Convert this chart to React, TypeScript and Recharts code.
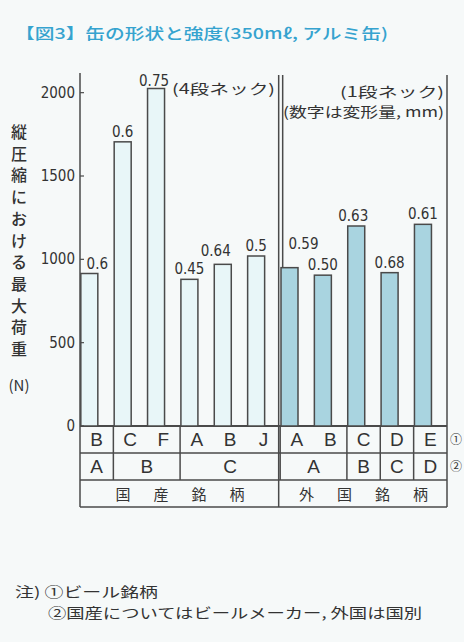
import { BarChart, Bar, XAxis, YAxis, LabelList, Customized } from "recharts";

// brand (row ①), maker / country (row ②), origin group (row ③)
const brands = ["B", "C", "F", "A", "B", "J", "A", "B", "C", "D", "E"];
const makers = ["A", "B", "B", "C", "C", "C", "A", "A", "B", "C", "D"];
const origins = ["domestic", "domestic", "domestic", "domestic", "domestic", "domestic", "foreign", "foreign", "foreign", "foreign", "foreign"];
// max load under vertical compression (N)
const maxLoad = [915, 1705, 2025, 880, 970, 1020, 950, 905, 1200, 920, 1210];
// deformation at max load (mm)
const deformation = ["0.6", "0.6", "0.75", "0.45", "0.64", "0.5", "0.59", "0.50", "0.63", "0.68", "0.61"];
const yTicks = [0, 500, 1000, 1500, 2000];
const originNames: Record<string, string> = { domestic: "国産銘柄", foreign: "外国銘柄" };
const yTitle = ["縦", "圧", "縮", "に", "お", "け", "る", "最", "大", "荷", "重"];

const data = brands.map((b, i) => ({
  brand: b,
  maker: makers[i],
  origin: origins[i],
  load: maxLoad[i],
  deform: deformation[i],
}));

// layout
const W = 464;
const H = 642;
const PLOT_L = 80;
const PLOT_R = 447;
const ROWS = [426, 453, 480, 507];
const BAND = (PLOT_R - PLOT_L) / brands.length;
const BAR_W = 17;
const BAR_SHIFT = (BAND - BAR_W) / 2 - 1; // bars sit at the left of each slot
const DIVIDER_X = PLOT_L + BAND * origins.filter((o) => o === "domestic").length;

const INK = "#4a4a4a";
const TEXT = "#333";
const JP = "'Noto Sans CJK JP', 'Noto Sans', sans-serif";
const NUM = "'DejaVu Sans Condensed', 'Liberation Sans Narrow', 'DejaVu Sans', sans-serif";

// small per-label nudges [dx, dy up] so the deformation labels don't collide
const labelNudge: Record<number, [number, number]> = {
  0: [8, 0],
  2: [-2, -2],
  4: [-7, 3],
  6: [14, 14],
  8: [-3, 0],
};

// runs of identical keys -> [start, length, key]
const runs = (keys: string[]) => {
  const out: [number, number, string][] = [];
  keys.forEach((k, i) => {
    const last = out[out.length - 1];
    if (last && last[2] === k) last[1] += 1;
    else out.push([i, 1, k]);
  });
  return out;
};
const makerRuns = runs(makers.map((m, i) => origins[i] + "|" + m));
const originRuns = runs(origins);

const BarShape = (p: any) => {
  const foreign = p.payload.origin === "foreign";
  return (
    <rect
      x={p.x - BAR_SHIFT}
      y={p.y}
      width={p.width}
      height={p.height}
      fill={foreign ? "#a9d4e0" : "#e8f6f8"}
      stroke={INK}
      strokeWidth={1.5}
    />
  );
};

const DeformLabel = (p: any) => {
  const [dx, dy] = labelNudge[p.index] ?? [0, 0];
  return (
    <text
      x={p.x - BAR_SHIFT + p.width / 2 + dx}
      y={p.y - 5 - dy}
      textAnchor="middle"
      fontFamily={NUM}
      fontSize={15}
      fill={TEXT}
    >
      {p.value}
    </text>
  );
};

const YTick = (p: any) => (
  <g>
    <text x={p.x} y={p.y + 5} textAnchor="end" fontFamily={NUM} fontSize={15} fill={TEXT}>
      {p.payload.value}
    </text>
    <line x1={PLOT_L} x2={PLOT_L + 4} y1={p.y} y2={p.y} stroke={INK} strokeWidth={1.2} />
  </g>
);

// table under the axis: brand, maker/country, origin
const XTick = (p: any) => {
  const i = p.payload.index;
  const mr = makerRuns.find((r) => r[0] === i);
  const or = originRuns.find((r) => r[0] === i);
  return (
    <g fill={TEXT} fontFamily="'Liberation Sans', Arial, sans-serif" fontSize={19} textAnchor="middle">
      <text x={p.x} y={ROWS[0] + 20}>{brands[i]}</text>
      {mr && (
        <text x={p.x + ((mr[1] - 1) * BAND) / 2} y={ROWS[1] + 20}>
          {makers[i]}
        </text>
      )}
      {or &&
        originNames[or[2]].split("").map((ch, k, arr) => (
          <text
            key={k}
            x={p.x + ((or[1] - 1) * BAND) / 2 + (k - (arr.length - 1) / 2) * 38}
            y={ROWS[2] + 20}
            fontFamily={JP}
            fontSize={15}
          >
            {ch}
          </text>
        ))}
    </g>
  );
};

const Frame = () => {
  const bounds = makerRuns.slice(0, -1).map((r) => PLOT_L + (r[0] + r[1]) * BAND);
  return (
    <g>
      {/* title */}
      <text x={15} y={39} fontFamily={JP} fontSize={15} fontWeight={500} fill="#35a3cf" textLength={373} lengthAdjust="spacingAndGlyphs">
        【図3】缶の形状と強度(350mℓ, アルミ缶)
      </text>

      {/* vertical axis title */}
      {yTitle.map((ch, k) => (
        <text key={k} x={19} y={138 + k * 21.7} textAnchor="middle" fontFamily={JP} fontSize={16} fontWeight={500} fill={TEXT}>
          {ch}
        </text>
      ))}
      <text x={19} y={391} textAnchor="middle" fontFamily={JP} fontSize={15} fill={TEXT}>
        (N)
      </text>

      {/* neck annotations */}
      <text x={172} y={94} fontFamily={JP} fontSize={14} fill={TEXT} textLength={103} lengthAdjust="spacingAndGlyphs">
        (4段ネック)
      </text>
      <text x={340} y={97} fontFamily={JP} fontSize={14} fill={TEXT} textLength={104} lengthAdjust="spacingAndGlyphs">
        (1段ネック)
      </text>
      <text x={283} y={117} fontFamily={JP} fontSize={14} fill={TEXT} textLength={161} lengthAdjust="spacingAndGlyphs">
        (数字は変形量, mm)
      </text>

      {/* frame */}
      <g stroke={INK} strokeWidth={1.5}>
        <line x1={PLOT_L} x2={PLOT_L} y1={73} y2={ROWS[3]} />
        <line x1={PLOT_R} x2={PLOT_R} y1={75} y2={ROWS[3]} />
        <line x1={DIVIDER_X - 1.5} x2={DIVIDER_X - 1.5} y1={75} y2={ROWS[3]} />
        <line x1={DIVIDER_X + 2.5} x2={DIVIDER_X + 2.5} y1={75} y2={ROWS[0]} />
        <line x1={PLOT_L} x2={PLOT_R} y1={ROWS[0]} y2={ROWS[0]} strokeWidth={2} />
        {ROWS.slice(1).map((y) => (
          <line key={y} x1={PLOT_L} x2={PLOT_R} y1={y} y2={y} />
        ))}
        {bounds.map((x) => (
          <line key={x} x1={x} x2={x} y1={ROWS[0]} y2={ROWS[2]} />
        ))}
      </g>

      {/* row markers */}
      <text x={450} y={444} fontFamily={JP} fontSize={12} fill={TEXT}>①</text>
      <text x={450} y={471} fontFamily={JP} fontSize={12} fill={TEXT}>②</text>

      {/* notes */}
      <text x={15} y={597} fontFamily={JP} fontSize={14} fill={TEXT} textLength={143} lengthAdjust="spacingAndGlyphs">
        注) ①ビール銘柄
      </text>
      <text x={48} y={618} fontFamily={JP} fontSize={14} fill={TEXT} textLength={374} lengthAdjust="spacingAndGlyphs">
        ②国産についてはビールメーカー, 外国は国別
      </text>
    </g>
  );
};

export default function App() {
  return (
    <div style={{ position: "absolute", left: 0, top: 0, width: W, height: H, background: "#f6f9f9" }}>
      <BarChart width={W} height={H} data={data} margin={{ top: 76, right: W - PLOT_R, bottom: H - ROWS[3], left: 0 }}>
        <XAxis
          dataKey="brand"
          height={ROWS[3] - ROWS[0]}
          axisLine={false}
          tickLine={false}
          interval={0}
          tick={<XTick />}
        />
        <YAxis
          width={PLOT_L}
          domain={[0, 2100]}
          ticks={yTicks}
          axisLine={false}
          tickLine={false}
          tickSize={0}
          tickMargin={5}
          tick={<YTick />}
        />
        <Bar dataKey="load" barSize={BAR_W} shape={<BarShape />} isAnimationActive={false}>
          <LabelList dataKey="deform" content={<DeformLabel />} />
        </Bar>
        <Customized component={<Frame />} />
      </BarChart>
    </div>
  );
}
